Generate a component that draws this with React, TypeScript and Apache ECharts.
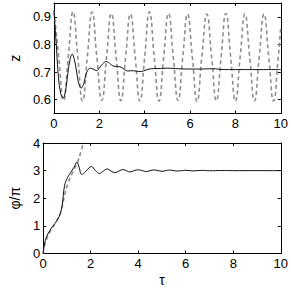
import React, { useEffect, useRef } from "react";
import * as echarts from "echarts";

const xTicks = [0, 2, 4, 6, 8, 10];
const zTicks = [0.6, 0.7, 0.8, 0.9];
const phiTicks = [0, 1, 2, 3, 4];

// top panel: z(τ)
const zSolid: [number, number][] = [
  [0, 0.922], [0.1, 0.8], [0.2, 0.68], [0.3, 0.622], [0.4, 0.606], [0.5, 0.628],
  [0.62, 0.7], [0.72, 0.75], [0.8, 0.765], [0.9, 0.745], [1.0, 0.7], [1.1, 0.657],
  [1.2, 0.642], [1.3, 0.655], [1.45, 0.7], [1.6, 0.714], [1.75, 0.71], [1.88, 0.705],
  [2.0, 0.715], [2.15, 0.73], [2.3, 0.738], [2.45, 0.732], [2.6, 0.722], [2.8, 0.72],
  [2.95, 0.718], [3.1, 0.71], [3.25, 0.704], [3.5, 0.705], [3.65, 0.703], [3.8, 0.702],
  [3.95, 0.704], [4.15, 0.71], [4.3, 0.712], [4.7, 0.713], [5.0, 0.714], [5.5, 0.712],
  [6.0, 0.711], [6.5, 0.711], [7.0, 0.712], [7.5, 0.709], [8, 0.709], [8.5, 0.709],
  [9, 0.709], [9.5, 0.709], [10, 0.709],
];

const zDashed: [number, number][] = [
  [0, 0.92], [0.21, 0.755], [0.42, 0.597], [0.63, 0.755], [0.84, 0.918],
  [1.05, 0.755], [1.26, 0.595], [1.47, 0.755], [1.68, 0.917], [1.89, 0.755],
  [2.11, 0.597], [2.32, 0.755], [2.53, 0.912], [2.74, 0.755], [2.95, 0.596],
  [3.16, 0.755], [3.37, 0.91], [3.58, 0.755], [3.79, 0.595], [4.0, 0.755],
  [4.21, 0.918], [4.42, 0.755], [4.63, 0.595], [4.84, 0.755], [5.05, 0.912],
  [5.26, 0.755], [5.47, 0.597], [5.68, 0.755], [5.89, 0.91], [6.1, 0.755],
  [6.31, 0.594], [6.52, 0.755], [6.74, 0.91], [6.95, 0.755], [7.16, 0.596],
  [7.37, 0.755], [7.58, 0.912], [7.79, 0.755], [8.0, 0.595], [8.21, 0.755],
  [8.42, 0.91], [8.63, 0.755], [8.84, 0.596], [9.05, 0.755], [9.26, 0.91],
  [9.47, 0.755], [9.68, 0.595], [9.89, 0.755], [10.0, 0.868],
];

// bottom panel: φ/π (τ)
const phiSolid: [number, number][] = [
  [0, 0], [0.05, 0.3], [0.15, 0.62], [0.35, 0.92], [0.55, 1.15], [0.7, 1.4],
  [0.8, 1.75], [0.9, 2.45], [1.0, 2.7], [1.15, 2.92], [1.3, 3.12], [1.42, 3.3],
  [1.52, 3.1], [1.62, 2.86], [1.8, 2.98], [2.03, 3.15], [2.2, 3.0], [2.37, 2.9],
  [2.53, 2.98], [2.69, 3.06], [2.86, 2.98], [3.02, 2.93], [3.2, 2.99], [3.37, 3.04],
  [3.52, 2.99], [3.66, 2.95], [3.83, 3.0], [4.0, 3.03], [4.18, 3.0], [4.34, 2.965],
  [4.5, 3.0], [4.67, 3.025], [4.84, 3.0], [5.0, 2.975], [5.16, 3.0], [5.32, 3.02],
  [5.5, 3.0], [5.66, 2.985], [5.83, 3.0], [6.0, 3.012], [6.3, 2.99], [6.65, 3.008],
  [7.0, 2.996], [7.5, 3.004], [8, 3.0], [9, 3.0], [10, 3.0],
];

const phiDashed: [number, number][] = [
  [0, 0], [0.1, 0.42], [0.3, 0.8], [0.55, 1.15], [0.75, 1.5], [0.9, 2.1],
  [1.05, 2.55], [1.25, 2.95], [1.45, 3.3], [1.6, 3.72], [1.74, 4.15],
];

const FONT = "'Liberation Sans', Arial, Helvetica, sans-serif";

export default function App() {
  const ref = useRef<HTMLDivElement>(null);
  useEffect(() => {
    if (!ref.current) return;
    const chart = echarts.init(ref.current, null, { renderer: "svg" });
    const lineStyle = { color: "#000", width: 1 };
    const tick = (vals: number[]) => ({
      show: true,
      inside: true,
      length: 3,
      customValues: vals,
      lineStyle: { color: "#000", width: 1 },
    });
    const label = (vals: number[], show: boolean) => ({
      show,
      customValues: vals,
      margin: 3,
      color: "#000",
      fontSize: 13,
      fontFamily: FONT,
      formatter: (v: number) => String(v),
    });
    const xAx = (grid: number, pos: "bottom" | "top", show: boolean, name?: string) => ({
      type: "value",
      gridIndex: grid,
      position: pos,
      min: 0,
      max: 10,
      axisLine: { show: true, onZero: false, lineStyle },
      axisTick: tick(xTicks),
      axisLabel: label(xTicks, show),
      splitLine: { show: false },
      name: name,
      nameLocation: "middle",
      nameGap: 19,
      nameTextStyle: { color: "#000", fontSize: 14, fontFamily: FONT },
    });
    const yAx = (
      grid: number,
      pos: "left" | "right",
      show: boolean,
      min: number,
      max: number,
      vals: number[],
      name?: string,
      gap?: number
    ) => ({
      type: "value",
      gridIndex: grid,
      position: pos,
      min,
      max,
      axisLine: { show: true, onZero: false, lineStyle },
      axisTick: tick(vals),
      axisLabel: label(vals, show),
      splitLine: { show: false },
      name: name,
      nameLocation: "middle",
      nameGap: gap,
      nameTextStyle: { color: "#000", fontSize: 14, fontFamily: FONT },
    });
    chart.setOption({
      animation: false,
      backgroundColor: "#fff",
      grid: [
        { left: 43, top: 3, width: 238, height: 110.5 },
        { left: 43, top: 143, width: 238, height: 110.5 },
      ],
      xAxis: [
        xAx(0, "bottom", true),
        xAx(0, "top", false),
        xAx(1, "bottom", true, "τ"),
        xAx(1, "top", false),
      ],
      yAxis: [
        yAx(0, "left", true, 0.55, 0.95, zTicks, "z", 26),
        yAx(0, "right", false, 0.55, 0.95, zTicks),
        yAx(1, "left", true, 0, 4, phiTicks, "φ/π", 10),
        yAx(1, "right", false, 0, 4, phiTicks),
      ],
      series: [
        {
          type: "line",
          xAxisIndex: 0,
          yAxisIndex: 0,
          data: zDashed,
          smooth: 0.5,
          symbol: "none",
          clip: true,
          lineStyle: { color: "#8f8f8f", width: 1.6, type: [4, 3] },
          z: 2,
        },
        {
          type: "line",
          xAxisIndex: 0,
          yAxisIndex: 0,
          data: zSolid,
          smooth: 0.4,
          symbol: "none",
          clip: true,
          lineStyle: { color: "#111", width: 1 },
          z: 3,
        },
        {
          type: "line",
          xAxisIndex: 2,
          yAxisIndex: 2,
          data: phiDashed,
          smooth: 0.4,
          symbol: "none",
          clip: true,
          lineStyle: { color: "#8f8f8f", width: 1.6, type: [4, 3] },
          z: 2,
        },
        {
          type: "line",
          xAxisIndex: 2,
          yAxisIndex: 2,
          data: phiSolid,
          smooth: 0.4,
          symbol: "none",
          clip: true,
          lineStyle: { color: "#111", width: 1 },
          z: 3,
        },
      ],
    });
    return () => chart.dispose();
  }, []);
  return (
    <div
      ref={ref}
      style={{ position: "fixed", left: 0, top: 0, width: 291, height: 291, background: "#fff" }}
    />
  );
}
